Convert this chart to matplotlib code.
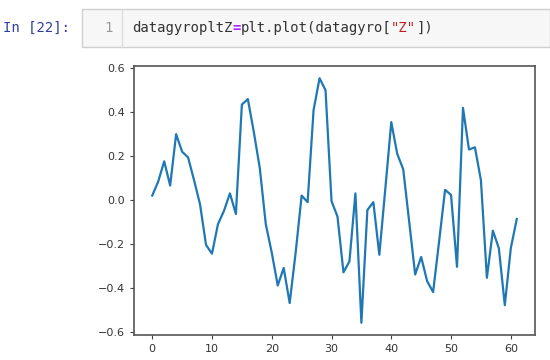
import matplotlib.pyplot as plt
from matplotlib.patches import Rectangle
from matplotlib.lines import Line2D

# datagyro["Z"] values
z_values = [0.02, 0.084, 0.176, 0.066, 0.30, 0.22, 0.194, 0.09, -0.02, -0.205,
            -0.245, -0.11, -0.05, 0.03, -0.064, 0.435, 0.46, 0.31, 0.145, -0.11,
            -0.24, -0.39, -0.31, -0.47, -0.24, 0.02, -0.01, 0.41, 0.555, 0.50,
            -0.005, -0.076, -0.33, -0.28, 0.03, -0.56, -0.046, -0.01, -0.25, 0.05,
            0.355, 0.21, 0.14, -0.10, -0.34, -0.26, -0.37, -0.42, -0.19, 0.046,
            0.023, -0.305, 0.42, 0.23, 0.24, 0.09, -0.355, -0.14, -0.22, -0.48,
            -0.22, -0.087]
x_values = list(range(len(z_values)))

prompt = "In [22]:"
line_no = "1"
# code pieces and their colours (notebook syntax highlight)
code_parts = ['datagyropltZ', '=', 'plt.plot(datagyro[', '"Z"', '])']
code_colors = ['#333333', '#AA22FF', '#333333', '#BA2121', '#333333']

W, H = 550, 360
fig = plt.figure(figsize=(5.5, 3.6), dpi=100)

# notebook cell
fig.add_artist(Rectangle((82 / W, 1 - 47 / H), (W - 82) / W, 38 / H,
                         transform=fig.transFigure, facecolor='#f7f7f7',
                         edgecolor='#cfcfcf', linewidth=1))
fig.add_artist(Line2D([122 / W, 122 / W], [1 - 47 / H, 1 - 9 / H],
                      transform=fig.transFigure, color='#dddddd', linewidth=1))
mono = 'DejaVu Sans Mono'
fig.text(3 / W, 1 - 28 / H, prompt, family=mono, fontsize=10,
         color='#303F9F', va='center')
fig.text(108 / W, 1 - 28 / H, line_no, family=mono, fontsize=10,
         color='#999999', va='center', ha='center')
char_w = 0.602 * 10 * 100 / 72
x0 = 132
for part, col in zip(code_parts, code_colors):
    fig.text(x0 / W, 1 - 28 / H, part, family=mono, fontsize=10, color=col,
             va='center', fontweight='bold' if part == '=' else 'normal')
    x0 += len(part) * char_w

# plot
ax = fig.add_axes([134 / W, 1 - 335 / H, (535 - 134) / W, (335 - 66) / H])
ax.plot(x_values, z_values, color='#1f77b4', linewidth=1.6)
ax.set_xticks([0, 10, 20, 30, 40, 50, 60])
ax.set_yticks([-0.6, -0.4, -0.2, 0.0, 0.2, 0.4, 0.6])
ax.tick_params(labelsize=8, length=3, color='#444444', labelcolor='#333333')
for s in ax.spines.values():
    s.set_color('#555555')
    s.set_linewidth(1.2)

fig.savefig('out.png', dpi=100)
